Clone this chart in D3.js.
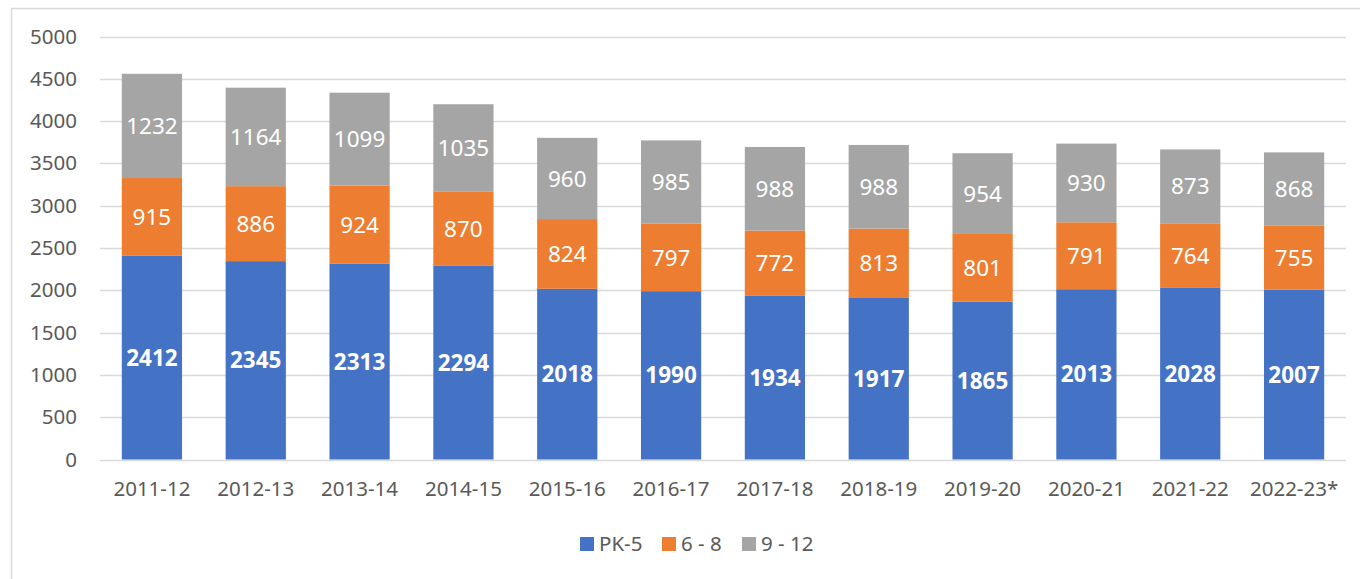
<!DOCTYPE html>
<html>
<head>
	<title> enrollment by grade band </title>
	<script src="https://d3js.org/d3.v7.min.js"></script>
	<style>
		body { margin: 0; background: #fff; }
		svg text { font-family: "Noto Sans", "Open Sans", sans-serif; }
	</style>
</head>
<body>
	<svg width="1360" height="579"></svg>
	<script type="text/javascript">
		let years = ["2011-12","2012-13","2013-14","2014-15","2015-16","2016-17",
		             "2017-18","2018-19","2019-20","2020-21","2021-22","2022-23*"];
		let pk5 = [2412,2345,2313,2294,2018,1990,1934,1917,1865,2013,2028,2007];
		let mid = [915,886,924,870,824,797,772,813,801,791,764,755];
		let high = [1232,1164,1099,1035,960,985,988,988,954,930,873,868];
		let seriesNames = ["PK-5","6 - 8","9 - 12"];
		let yTicks = [0,500,1000,1500,2000,2500,3000,3500,4000,4500,5000];
		let colorSet = ["#4472C4","#ED7D31","#A5A5A5"];

		let svg = d3.select("svg");

		// outer frame (top and left edges visible)
		svg.append("path")
			.attr("d", "M11.5,579 L11.5,8.5 L1360,8.5")
			.attr("fill", "none")
			.attr("stroke", "#d9d9d9")
			.attr("stroke-width", 1.5);

		let x = d3.scaleBand().domain(years).range([100, 1346]).paddingInner(0.42).paddingOuter(0.21);
		let y = d3.scaleLinear().domain([0, 5000]).range([459.5, 36.5]);

		// gridlines
		svg.append("g").selectAll("line").data(yTicks).join("line")
			.attr("x1", 100).attr("x2", 1346)
			.attr("y1", d => Math.round(y(d)) + 0.5).attr("y2", d => Math.round(y(d)) + 0.5)
			.attr("stroke", "#d9d9d9").attr("stroke-width", 1.3);

		// y axis labels
		let yAxis = d3.axisLeft(y).tickValues(yTicks).tickFormat(d3.format("d")).tickSize(0).tickPadding(0);
		let ya = svg.append("g").attr("transform", "translate(77,0)").call(yAxis);
		ya.select(".domain").remove();
		ya.selectAll("text").attr("fill", "#595959").style("font-size", "20.5px")
			.style("font-family", "'Noto Sans', sans-serif");

		// x axis labels
		let xAxis = d3.axisBottom(x).tickSize(0).tickPadding(0);
		let xa = svg.append("g").attr("transform", "translate(0,481)").call(xAxis);
		xa.select(".domain").remove();
		xa.selectAll("text").attr("fill", "#595959").style("font-size", "20.5px")
			.style("font-family", "'Noto Sans', sans-serif");

		let rows = years.map((yr, i) => ({ year: yr, a: pk5[i], b: mid[i], c: high[i] }));
		let stack = d3.stack().keys(["a","b","c"]);
		let layers = stack(rows);

		layers.forEach(function(layer, li) {
			let g = svg.append("g");
			g.selectAll("rect").data(layer).join("rect")
				.attr("x", d => x(d.data.year))
				.attr("width", x.bandwidth())
				.attr("y", d => y(d[1]))
				.attr("height", d => y(d[0]) - y(d[1]))
				.attr("fill", colorSet[li]);
			g.selectAll("text").data(layer).join("text")
				.attr("x", d => x(d.data.year) + x.bandwidth() / 2)
				.attr("y", d => (y(d[0]) + y(d[1])) / 2)
				.attr("dy", "0.36em")
				.attr("text-anchor", "middle")
				.attr("fill", "#fff")
				.style("font-size", "22.5px")
				.style("font-weight", li == 0 ? "bold" : "normal")
				.text(d => d[1] - d[0]);
		});

		// legend
		let legX = [580, 662, 742];
		let leg = svg.append("g");
		seriesNames.forEach(function(name, i) {
			leg.append("rect").attr("x", legX[i]).attr("y", 537).attr("width", 14).attr("height", 14)
				.attr("fill", colorSet[i]);
			leg.append("text").attr("x", legX[i] + 19).attr("y", 544).attr("dy", "0.36em")
				.attr("fill", "#595959").style("font-size", "20.5px").text(name);
		});
	</script>
</body>
</html>
